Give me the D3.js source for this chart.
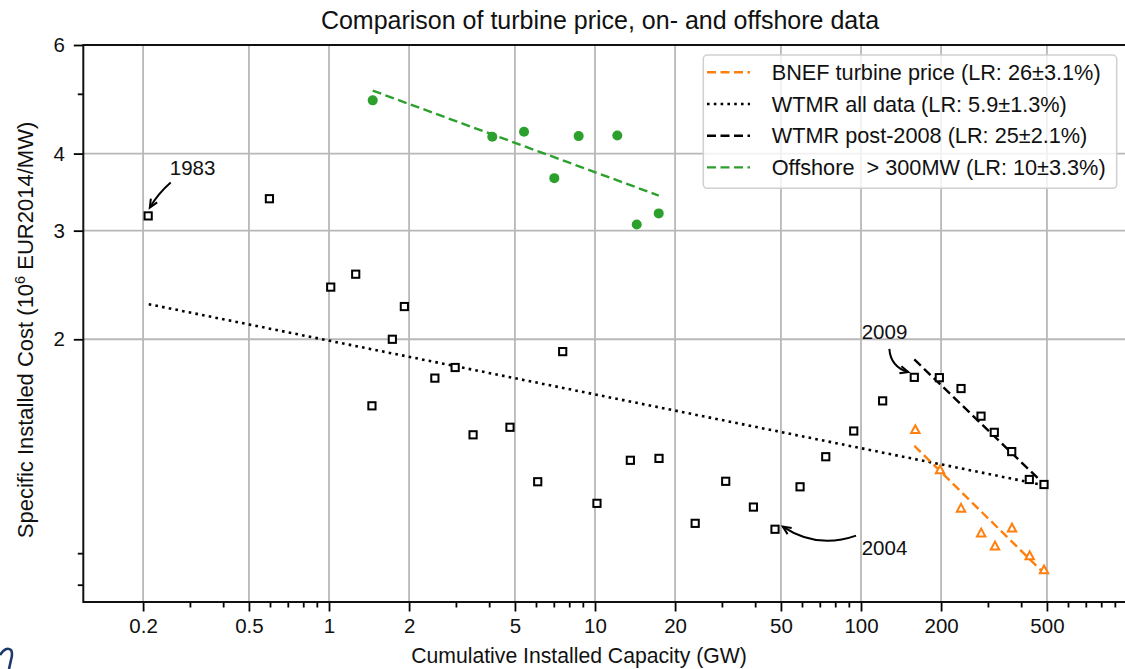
<!DOCTYPE html>
<html>
<head>
<meta charset="utf-8">
<script src="https://cdn.jsdelivr.net/npm/d3@7"></script>
<style>
  html, body { margin: 0; padding: 0; background: #fff; }
  svg { display: block; font-family: "Liberation Sans", Arial, sans-serif; }
</style>
</head>
<body>
<svg id="chart" width="1125" height="669"></svg>
<script>
// ---------------- data ----------------
const wtmrX = [0.209, 0.597, 1.015, 1.26, 1.45, 1.73, 1.92, 2.50, 2.98, 3.48, 4.79, 6.09, 7.56, 10.17, 13.58, 17.4, 23.8, 31.0, 39.4, 47.5, 59.0, 73.7, 93.9, 120.6, 158.6, 197, 237.7, 282.6, 317, 368.6, 429.3, 487.5];
const wtmrY = [3.17, 3.38, 2.43, 2.55, 1.56, 2.00, 2.26, 1.73, 1.80, 1.40, 1.44, 1.175, 1.91, 1.084, 1.273, 1.282, 1.006, 1.177, 1.069, 0.984, 1.153, 1.29, 1.42, 1.589, 1.735, 1.733, 1.664, 1.501, 1.413, 1.315, 1.185, 1.163];

const bnefX = [160, 198.2, 237.7, 283, 319, 369.6, 430.8, 487.5];
const bnefY = [1.428, 1.229, 1.065, 0.971, 0.925, 0.989, 0.892, 0.846];

const offX = [1.46, 4.11, 5.41, 7.03, 8.68, 12.13, 14.35, 17.36];
const offY = [4.88, 4.26, 4.34, 3.65, 4.27, 4.28, 3.07, 3.20];

// fitted lines (end points)
const bnefFitX = [158.6, 487.5], bnefFitY = [1.344, 0.835];
const allFitX  = [0.21, 487.5],  allFitY  = [2.28, 1.16];
const postFitX = [158.6, 487.5], postFitY = [1.855, 1.165];
const offFitX  = [1.46, 17.36],  offFitY  = [5.06, 3.42];

const legendLabels = [
  "BNEF turbine price (LR: 26\u00b13.1%)",
  "WTMR all data (LR: 5.9\u00b11.3%)",
  "WTMR post-2008 (LR: 25\u00b12.1%)",
  "Offshore  > 300MW (LR: 10\u00b13.3%)"
];

const xMajor = [0.2, 0.5, 1, 2, 5, 10, 20, 50, 100, 200, 500];
const xMajorLabels = ["0.2", "0.5", "1", "2", "5", "10", "20", "50", "100", "200", "500"];
const xMinor = [0.3, 0.4, 0.6, 0.7, 0.8, 0.9, 3, 4, 6, 7, 8, 9, 30, 40, 60, 70, 80, 90, 300, 400, 600, 700, 800, 900];
const yMajor = [2, 3, 4, 6];
const yMajorLabels = ["2", "3", "4", "6"];
const yMinor = [0.8, 0.9, 5];

// annotations: [label, textX, textY, arrowStartX, arrowStartY, tipX, tipY, bend]
const annotations = [
  ["1983", 0.252, 3.69, 0.254, 3.59, 0.212, 3.27, 0.08],
  ["2009", 100.6, 2.0, 127.8, 1.93, 150.6, 1.77, 0.35],
  ["2004", 100.6, 0.894, 95.8, 0.961, 50.8, 0.994, -0.25]
];

// ---------------- layout ----------------
const W = 1125, H = 669;
const pLeft = 83.3, pTop = 45, pBottom = 602;
const pxPerDecade = 266;
const xMin = 0.1192, xMax = 1200;
const pRight = pLeft + pxPerDecade * Math.log10(xMax / xMin);

const orange = "#ff7f0e", green = "#2ca02c";
const fontSize = 20.5;

const svg = d3.select("#chart");
const x = d3.scaleLog().domain([xMin, xMax]).range([pLeft, pRight]);
const y = d3.scaleLog().domain([0.75, 6]).range([pBottom, pTop]);

svg.append("defs").append("clipPath").attr("id", "plotclip")
  .append("rect").attr("x", pLeft).attr("y", pTop).attr("width", pRight - pLeft).attr("height", pBottom - pTop);

// grid
const grid = svg.append("g");
grid.selectAll("line.vx").data(xMajor).join("line")
  .attr("x1", d => x(d)).attr("x2", d => x(d)).attr("y1", pTop).attr("y2", pBottom)
  .attr("stroke", "#b8b8b8").attr("stroke-width", 1.8);
grid.selectAll("line.hy").data(yMajor).join("line")
  .attr("x1", pLeft).attr("x2", pRight).attr("y1", d => y(d)).attr("y2", d => y(d))
  .attr("stroke", "#b8b8b8").attr("stroke-width", 1.8);

// axes
const xAxis = d3.axisBottom(x).tickValues(xMajor).tickFormat((d, i) => xMajorLabels[i]).tickSize(9.5).tickPadding(7);
const xAxisMinor = d3.axisBottom(x).tickValues(xMinor).tickFormat("").tickSize(5.5);
const yAxis = d3.axisLeft(y).tickValues(yMajor).tickFormat((d, i) => yMajorLabels[i]).tickSize(9.5).tickPadding(9);
const yAxisMinor = d3.axisLeft(y).tickValues(yMinor).tickFormat("").tickSize(5.5);

function styleAxis(g) {
  g.select(".domain").remove();
  g.selectAll(".tick line").attr("stroke", "#000").attr("stroke-width", 1.8);
  g.selectAll(".tick text").attr("fill", "#111").style("font-size", fontSize + "px")
   .style("font-family", '"Liberation Sans", Arial, sans-serif');
}
svg.append("g").attr("transform", `translate(0,${pBottom})`).call(xAxis).call(styleAxis);
svg.append("g").attr("transform", `translate(0,${pBottom})`).call(xAxisMinor).call(styleAxis);
svg.append("g").attr("transform", `translate(${pLeft},0)`).call(yAxis).call(styleAxis);
svg.append("g").attr("transform", `translate(${pLeft},0)`).call(yAxisMinor).call(styleAxis);

// spines (left, bottom, top; right edge is out of view)
svg.append("path")
  .attr("d", `M${pRight},${pTop} L${pLeft},${pTop} L${pLeft},${pBottom} L${pRight},${pBottom}`)
  .attr("fill", "none").attr("stroke", "#111").attr("stroke-width", 2);

// plot content
const plot = svg.append("g").attr("clip-path", "url(#plotclip)");
const line = d3.line().x(d => x(d[0])).y(d => y(d[1]));

plot.append("path").datum(allFitX.map((v, i) => [v, allFitY[i]])).attr("d", line)
  .attr("fill", "none").attr("stroke", "#000").attr("stroke-width", 2.6).attr("stroke-dasharray", "2.6,4.2");
plot.append("path").datum(postFitX.map((v, i) => [v, postFitY[i]])).attr("d", line)
  .attr("fill", "none").attr("stroke", "#000").attr("stroke-width", 2.4).attr("stroke-dasharray", "9,4.5");
plot.append("path").datum(bnefFitX.map((v, i) => [v, bnefFitY[i]])).attr("d", line)
  .attr("fill", "none").attr("stroke", orange).attr("stroke-width", 2.4).attr("stroke-dasharray", "9,4.5");
plot.append("path").datum(offFitX.map((v, i) => [v, offFitY[i]])).attr("d", line)
  .attr("fill", "none").attr("stroke", green).attr("stroke-width", 2.4).attr("stroke-dasharray", "9,4.5");

// WTMR squares
plot.selectAll("rect.wtmr").data(wtmrX.map((v, i) => [v, wtmrY[i]])).join("rect")
  .attr("x", d => x(d[0]) - 3.6).attr("y", d => y(d[1]) - 3.6)
  .attr("width", 7.2).attr("height", 7.2)
  .attr("fill", "#fff").attr("stroke", "#000").attr("stroke-width", 2);

// BNEF triangles
plot.selectAll("path.bnef").data(bnefX.map((v, i) => [v, bnefY[i]])).join("path")
  .attr("transform", d => `translate(${x(d[0])},${y(d[1])})`)
  .attr("d", "M0,-4.2 L4.2,3.6 L-4.2,3.6 Z")
  .attr("fill", "#fff").attr("stroke", orange).attr("stroke-width", 2).attr("stroke-linejoin", "miter");

// Offshore circles
plot.selectAll("circle.off").data(offX.map((v, i) => [v, offY[i]])).join("circle")
  .attr("cx", d => x(d[0])).attr("cy", d => y(d[1])).attr("r", 5)
  .attr("fill", green);

// annotations
const ann = svg.append("g");
annotations.forEach(a => {
  const [lab, tx, ty, sx, sy, ex, ey, bend] = a;
  ann.append("text").attr("x", x(tx)).attr("y", y(ty)).text(lab)
    .attr("fill", "#111").style("font-size", fontSize + "px");
  const x0 = x(sx), y0 = y(sy), x1 = x(ex), y1 = y(ey);
  const mx = (x0 + x1) / 2, my = (y0 + y1) / 2;
  const dx = x1 - x0, dy = y1 - y0;
  const cx = mx - bend * dy, cy = my + bend * dx;
  ann.append("path").attr("d", `M${x0},${y0} Q${cx},${cy} ${x1},${y1}`)
    .attr("fill", "none").attr("stroke", "#000").attr("stroke-width", 2);
  const ang = Math.atan2(y1 - cy, x1 - cx);
  const L = 9, spread = 0.42;
  const p1 = [x1 - L * Math.cos(ang - spread), y1 - L * Math.sin(ang - spread)];
  const p2 = [x1 - L * Math.cos(ang + spread), y1 - L * Math.sin(ang + spread)];
  ann.append("path").attr("d", `M${p1[0]},${p1[1]} L${x1},${y1} L${p2[0]},${p2[1]}`)
    .attr("fill", "none").attr("stroke", "#000").attr("stroke-width", 2);
});

// legend
const lg = svg.append("g");
lg.append("rect").attr("x", 703.3).attr("y", 55).attr("width", 413.4).attr("height", 133.3)
  .attr("rx", 4).attr("fill", "#fff").attr("fill-opacity", 0.8)
  .attr("stroke", "#d0d0d0").attr("stroke-width", 1.5);
const legStyles = [
  { c: orange, dash: "9,4.5", w: 2.4 },
  { c: "#000", dash: "2.6,4.2", w: 2.6 },
  { c: "#000", dash: "9,4.5", w: 2.4 },
  { c: green, dash: "9,4.5", w: 2.4 }
];
legendLabels.forEach((lab, i) => {
  const cy = 72.3 + i * 31.7;
  lg.append("line").attr("x1", 707).attr("x2", 750).attr("y1", cy).attr("y2", cy)
    .attr("stroke", legStyles[i].c).attr("stroke-width", legStyles[i].w)
    .attr("stroke-dasharray", legStyles[i].dash);
  lg.append("text").attr("x", 771.7).attr("y", cy + 7.5).text(lab)
    .attr("fill", "#111").style("font-size", "21.7px").style("white-space", "pre")
    .attr("xml:space", "preserve");
});

// title & labels
svg.append("text").attr("x", 600).attr("y", 29).attr("text-anchor", "middle")
  .text("Comparison of turbine price, on- and offshore data")
  .attr("fill", "#111").style("font-size", "25px");
svg.append("text").attr("x", 579).attr("y", 663).attr("text-anchor", "middle")
  .text("Cumulative Installed Capacity (GW)")
  .attr("fill", "#111").style("font-size", "21.2px");
const yl = svg.append("text").attr("transform", `translate(33,330) rotate(-90)`)
  .attr("text-anchor", "middle").attr("fill", "#111").style("font-size", "22px");
yl.append("tspan").text("Specific Installed Cost (10");
yl.append("tspan").text("6").attr("dy", -8).style("font-size", "14.5px");
yl.append("tspan").text(" EUR2014/MW)").attr("dy", 8);

// cropped glyph fragment at the bottom-left corner of the source image
svg.append("path").attr("d", "M0,655 Q6,646 11,650 Q13,653 11,660 L9,669")
  .attr("fill", "none").attr("stroke", "#1f3a68").attr("stroke-width", 2.6);
</script>
</body>
</html>
